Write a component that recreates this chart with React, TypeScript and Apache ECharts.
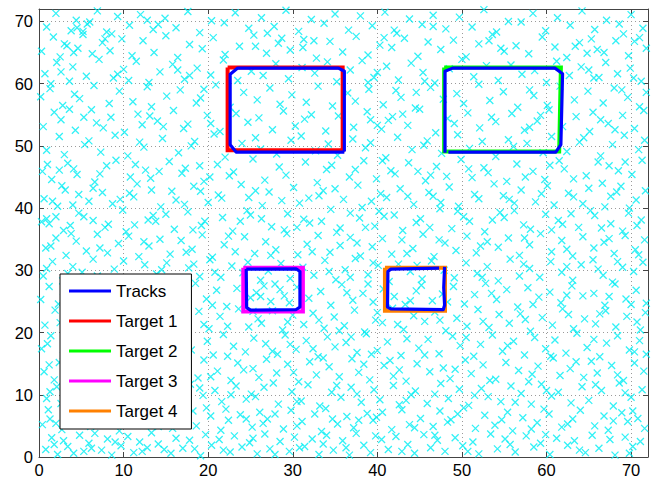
import React, { useEffect, useRef } from "react";
import * as echarts from "echarts";

// Axis extents and tick labels
const AXIS_MAX = 72;
const TICK_STEP = 10;

const clutterXY = [
  // y 0-4
  0.8,1.2, 1.5,3.1, 2.2,0.4, 2.9,2.6, 3.4,1.7, 4.8,3.5, 5.3,0.9, 5.9,2.2, 6.6,3.8, 7.4,1.1, 8.1,2.9, 8.6,0.3, 9.7,1.8, 10.5,3.3, 11.2,0.7, 11.9,2.4, 12.8,1.5, 13.3,3.9, 14.1,2.1, 15.6,0.6, 16.2,3.0, 17.0,1.4, 17.8,2.7, 19.1,0.2, 19.7,3.6, 20.4,1.9, 21.3,2.8, 22.6,0.8, 23.1,3.4, 24.0,1.6, 24.9,2.3, 25.8,0.5, 26.7,3.7, 27.3,1.3, 28.5,2.5, 29.6,0.9, 30.2,3.2, 31.4,1.7, 32.3,2.9, 33.1,0.4, 34.0,3.5, 34.8,1.1, 35.9,2.6, 36.7,0.3, 37.5,3.8, 38.4,1.9, 39.2,0.7, 40.5,2.8, 41.3,1.2, 42.2,3.3, 43.6,2.0, 44.4,0.6, 45.5,3.6, 46.3,1.5, 47.1,2.7, 48.0,0.9, 49.2,3.1, 50.1,1.8, 51.3,2.4, 52.0,0.5, 53.4,3.7, 54.2,1.3, 55.1,2.9, 56.3,0.8, 57.6,3.4, 58.5,1.6, 59.3,2.2, 60.4,0.4, 61.2,3.0, 62.5,1.9, 63.3,2.6, 64.6,0.7, 65.4,3.5, 66.2,1.4, 67.5,2.8, 68.1,0.3, 69.3,3.2, 70.2,1.7, 71.1,2.5,
  // y 4-8
  0.4,5.2, 1.1,7.6, 1.3,6.1, 2.7,4.4, 3.9,7.1, 4.2,5.8, 4.6,6.4, 6.1,4.9, 6.8,7.8, 7.9,5.5, 9.2,6.7, 9.5,4.2, 10.8,7.3, 12.4,5.1, 12.9,6.0, 13.4,5.6, 14.7,7.9, 15.8,4.6, 16.9,6.3, 18.2,7.4, 18.6,5.0, 20.3,6.6, 21.5,4.3, 22.1,7.7, 22.4,5.9, 23.8,6.8, 25.2,4.8, 26.1,7.2, 26.5,5.4, 27.0,6.1, 28.9,4.5, 29.8,7.5, 31.1,5.7, 32.6,6.9, 33.4,4.1, 33.9,7.8, 35.3,5.3, 36.4,6.5, 37.2,4.7, 38.8,7.0, 39.5,5.9, 39.9,6.4, 41.7,4.4, 42.9,7.6, 43.8,5.2, 45.1,6.2, 46.6,4.9, 47.4,7.4, 48.3,5.6, 48.7,6.0, 50.2,7.9, 51.6,4.6, 52.7,6.7, 53.9,5.1, 55.4,7.2, 56.0,4.2, 57.2,6.3, 58.9,5.5, 59.7,7.7, 60.3,6.9, 61.8,4.8, 63.1,6.1, 64.0,7.5, 65.7,5.0, 66.8,6.6, 67.3,4.3, 68.9,7.1, 69.6,5.7, 70.8,6.2, 71.6,4.6,
  // y 8-12
  0.9,9.4, 2.1,11.3, 2.6,8.6, 3.3,10.2, 5.0,11.8, 5.7,9.1, 7.2,10.6, 8.4,8.3, 8.8,11.5, 10.1,9.8, 11.6,10.9, 12.2,8.7, 13.8,11.1, 14.5,9.5, 15.3,10.3, 17.4,8.4, 17.9,11.7, 19.4,9.9, 20.8,10.7, 21.6,8.9, 23.3,11.4, 24.5,9.3, 25.1,10.1, 25.6,9.7, 27.7,11.9, 28.3,8.5, 29.9,10.5, 31.0,9.0, 31.8,11.6, 33.2,8.2, 34.6,10.4, 35.7,9.6, 36.9,11.2, 38.1,8.8, 39.6,10.8, 40.3,9.2, 41.9,11.5, 42.6,8.4, 44.0,10.0, 44.5,10.6, 45.9,8.6, 47.5,11.8, 48.4,9.4, 49.7,10.9, 50.8,8.3, 52.3,11.0, 53.1,9.7, 54.6,8.9, 55.8,11.4, 57.0,10.2, 58.2,8.5, 59.4,11.7, 60.6,9.8, 61.4,10.4, 62.9,8.7, 64.2,11.3, 65.0,9.1, 66.5,10.7, 67.9,8.2, 68.6,11.9, 70.0,9.6, 71.3,10.8,
  // y 12-16
  0.6,13.7, 1.8,12.4, 2.4,15.2, 3.7,14.1, 4.5,12.9, 6.3,15.8, 6.9,13.3, 8.2,14.6, 9.9,12.2, 10.4,15.5, 11.5,13.9, 13.1,12.6, 13.6,14.8, 15.0,15.9, 16.4,13.1, 17.3,14.4, 18.8,12.7, 19.5,15.6, 21.1,13.8, 22.7,12.3, 23.5,15.1, 24.2,14.0, 26.0,12.8, 26.9,15.7, 28.1,13.5, 29.4,14.9, 30.7,12.1, 32.0,15.3, 32.8,13.2, 34.3,14.5, 35.5,12.9, 37.0,15.8, 37.8,13.6, 39.1,12.4, 40.8,14.7, 41.5,15.5, 41.9,13.0, 43.4,12.2, 44.7,15.0, 46.2,13.7, 47.8,14.3, 48.6,12.6, 50.4,15.6, 51.1,13.4, 52.5,14.8, 54.0,12.5, 55.2,15.2, 56.7,13.9, 57.9,12.1, 59.0,14.6, 60.8,15.9, 61.6,13.1, 62.8,14.2, 64.4,12.8, 65.3,15.4, 66.0,13.5, 67.7,14.7, 69.1,12.3, 70.4,15.1, 71.5,13.8,
  // y 16-20
  0.3,17.4, 1.4,19.5, 2.9,16.3, 3.6,18.8, 5.2,17.0, 6.0,19.2, 7.6,16.7, 8.5,18.3, 9.3,19.9, 11.0,17.6, 12.3,16.2, 12.7,18.9, 14.2,17.9, 15.9,16.6, 16.6,19.4, 18.0,17.2, 19.9,18.6, 20.6,16.4, 21.8,19.7, 23.0,17.8, 24.4,16.9, 25.4,19.1, 26.8,18.2, 28.2,16.5, 29.1,19.6, 30.4,17.3, 31.6,18.7, 33.0,16.1, 34.1,19.3, 35.0,17.7, 36.3,18.4, 37.6,16.8, 38.7,19.8, 40.0,17.1, 41.2,18.5, 42.8,16.3, 43.5,19.0, 44.9,17.5, 46.0,18.9, 47.3,16.6, 48.9,19.4, 49.8,17.9, 51.4,16.2, 52.2,18.1, 53.6,19.6, 54.8,17.0, 56.1,18.6, 57.4,16.4, 58.6,19.2, 59.9,17.4, 61.0,18.8, 62.3,16.7, 63.6,19.9, 64.8,17.6, 66.3,16.1, 67.1,18.3, 68.4,19.5, 69.8,17.2, 71.0,18.7, 71.8,16.5,
  // y 20-24
  0.7,21.2, 1.9,23.6, 3.1,20.5, 3.8,22.4, 5.5,21.7, 6.7,23.9, 7.8,20.3, 9.0,22.9, 10.2,21.4, 11.3,23.2, 12.6,20.8, 14.0,22.1, 15.2,23.7, 16.0,20.2, 17.5,21.9, 18.9,23.4, 20.1,20.6, 21.4,22.6, 22.3,21.0, 23.6,23.8, 24.8,20.9, 25.9,22.2, 26.3,21.5, 27.6,23.5, 28.8,20.4, 30.0,22.8, 31.3,21.3, 32.4,23.1, 33.7,20.7, 34.9,22.5, 36.1,21.1, 37.3,23.6, 38.5,20.1, 39.8,22.0, 40.6,21.6, 41.8,23.9, 43.1,20.5, 44.3,22.7, 45.6,21.8, 46.8,23.3, 48.1,20.3, 49.4,22.3, 50.6,21.0, 51.9,23.7, 53.2,20.8, 54.4,22.9, 55.6,21.5, 56.9,23.0, 58.1,20.2, 59.5,22.4, 60.7,21.2, 61.9,23.8, 63.2,20.6, 64.5,22.2, 65.8,21.4, 67.0,23.5, 68.2,20.9, 69.5,22.6, 70.7,21.7, 71.7,23.2,
  // y 24-28
  0.2,25.3, 1.2,27.4, 2.3,24.6, 3.5,26.2, 4.9,27.8, 5.8,24.9, 7.0,26.7, 8.3,25.1, 9.6,27.2, 10.9,24.3, 12.1,26.5, 13.4,25.7, 14.8,27.6, 16.1,24.7, 17.2,26.0, 18.5,27.9, 19.8,25.4, 21.0,26.8, 22.2,24.2, 23.4,27.1, 25.0,25.6, 25.7,26.4, 26.6,27.5, 27.4,25.0, 28.5,26.9, 29.6,24.8, 30.5,27.3, 31.9,25.5, 33.3,26.6, 34.5,24.4, 35.8,27.7, 37.1,25.2, 38.3,26.3, 39.5,24.9, 40.7,27.0, 42.0,25.8, 43.3,24.5, 44.6,26.7, 45.2,27.6, 46.5,25.1, 47.7,26.2, 49.0,27.4, 50.3,24.6, 51.5,26.1, 52.8,27.9, 54.1,25.3, 55.3,26.9, 56.6,24.1, 57.8,27.2, 59.1,25.7, 60.4,26.5, 61.7,24.8, 63.0,27.5, 64.3,25.9, 65.6,26.3, 66.9,24.4, 68.1,27.8, 69.4,25.4, 70.6,26.8, 71.8,24.7,
  // y 28-32
  0.5,29.1, 1.6,31.4, 2.8,28.3, 4.0,30.6, 5.1,29.7, 6.4,31.8, 7.5,28.8, 8.9,30.2, 10.0,31.5, 11.4,28.6, 12.5,30.9, 13.9,29.4, 15.1,31.2, 16.3,28.1, 17.7,30.4, 19.0,29.0, 20.2,31.7, 21.5,28.9, 22.8,30.7, 24.1,29.6, 24.7,31.3, 26.2,28.4, 27.1,29.9, 28.6,31.1, 29.7,28.7, 31.2,30.5, 32.5,29.2, 33.8,31.6, 35.1,28.5, 36.2,30.1, 37.4,31.9, 38.9,29.3, 40.1,30.8, 41.4,28.2, 42.5,31.0, 43.9,29.8, 45.3,28.6, 46.4,31.5, 47.9,30.0, 49.1,28.8, 50.5,31.2, 51.8,29.5, 53.0,30.6, 54.3,28.3, 55.7,31.8, 56.8,29.1, 58.0,30.3, 59.2,28.9, 60.5,31.4, 61.8,29.7, 63.1,28.4, 64.1,30.9, 65.5,31.7, 66.7,29.2, 67.8,28.1, 69.0,30.5, 70.3,29.8, 71.4,31.3,
  // y 32-36
  0.8,33.6, 2.0,35.2, 3.2,32.4, 4.4,34.7, 5.6,33.1, 6.9,35.8, 8.1,32.8, 9.4,34.3, 10.6,35.5, 11.8,32.2, 13.0,33.9, 14.3,35.0, 15.5,32.6, 16.8,34.8, 18.1,33.4, 19.3,35.7, 20.5,32.1, 21.9,34.1, 23.2,33.0, 24.3,35.4, 25.5,32.7, 26.8,34.6, 28.0,33.3, 29.3,35.9, 30.6,32.5, 31.7,34.2, 33.0,35.6, 34.4,32.9, 35.6,34.0, 36.8,35.3, 38.0,32.3, 39.4,33.8, 40.6,35.1, 41.7,32.6, 42.9,34.9, 44.2,33.5, 45.4,35.8, 46.7,32.2, 48.0,34.4, 49.3,33.2, 50.6,35.5, 51.7,32.8, 53.0,34.6, 54.3,33.7, 55.5,35.2, 56.8,32.4, 58.0,34.1, 59.3,35.9, 60.6,33.0, 61.8,34.8, 63.1,32.3, 64.3,35.4, 65.6,33.6, 66.8,34.5, 68.0,32.7, 69.3,35.6, 70.5,33.3, 71.6,34.9,
  // y 36-40
  0.3,37.8, 0.9,38.3, 1.2,37.5, 2.9,36.4, 4.7,39.2, 5.3,38.6, 7.8,36.9, 8.2,37.4, 9.9,39.7, 10.3,36.2, 12.9,38.1, 13.5,38.8, 13.8,37.9, 16.0,36.6, 17.6,39.4, 19.2,37.2, 19.6,37.9, 21.7,38.5, 22.9,36.3, 24.6,39.6, 25.0,38.9, 27.5,37.0, 29.0,36.5, 29.4,39.1, 31.3,38.2, 32.0,37.6, 34.5,39.8, 35.2,36.1, 35.6,36.8, 37.9,38.4, 39.7,37.1, 40.2,39.5, 40.8,38.7, 43.0,36.4, 44.6,37.7, 45.1,38.3, 47.4,39.9, 48.8,36.7, 50.2,38.6, 50.9,37.9, 52.7,36.2, 54.5,39.3, 55.0,38.5, 57.3,37.3, 58.1,36.6, 59.9,39.0, 61.4,38.0, 61.9,37.4, 63.8,36.9, 65.2,39.6, 65.7,38.8, 67.6,37.5, 69.0,36.3, 69.7,39.2, 71.2,38.1,
  // y 40-44
  0.6,41.5, 2.2,40.3, 2.7,43.6, 3.1,42.9, 5.9,41.1, 6.4,43.2, 8.7,40.7, 10.7,42.4, 11.2,41.8, 11.6,43.9, 14.4,40.2, 15.7,42.7, 16.2,41.3, 18.3,43.5, 20.0,40.9, 21.2,42.1, 21.6,41.6, 23.9,43.8, 26.4,40.4, 27.2,42.6, 28.7,41.2, 30.1,43.3, 30.8,40.8, 33.1,42.0, 33.6,42.8, 36.0,41.4, 37.7,43.7, 38.2,40.1, 40.4,42.3, 41.1,41.7, 42.7,43.1, 44.3,40.6, 46.1,42.5, 46.6,41.9, 48.5,43.4, 49.6,40.3, 51.5,42.2, 52.0,41.5, 53.8,43.9, 56.2,40.8, 57.0,42.9, 58.7,41.0, 60.1,43.6, 60.9,40.5, 62.6,42.4, 63.2,41.8, 65.0,43.2, 66.9,40.2, 68.3,42.6, 68.8,43.5, 70.6,41.3, 71.7,42.8,
  // y 44-48
  0.4,45.9, 1.5,44.6, 3.4,47.2, 4.1,46.3, 4.5,45.4, 6.6,44.2, 8.0,46.8, 9.1,47.7, 10.8,45.0, 12.6,46.1, 13.2,44.8, 15.4,47.5, 16.9,45.6, 17.3,46.4, 19.5,44.3, 21.1,47.0, 22.5,45.2, 23.0,45.8, 25.3,47.9, 26.7,44.5, 28.4,46.6, 29.2,45.3, 31.5,47.4, 32.9,44.1, 34.0,46.2, 34.6,46.9, 36.7,45.0, 38.4,47.6, 39.9,44.7, 41.6,46.0, 42.1,45.5, 43.7,47.3, 45.7,44.4, 47.0,46.7, 48.2,45.1, 49.9,47.8, 51.2,44.9, 52.6,46.5, 53.1,45.7, 55.3,44.3, 56.5,47.1, 58.4,45.9, 59.8,44.6, 61.5,47.6, 62.1,46.3, 64.7,45.2, 66.1,47.4, 66.6,44.0, 68.5,46.0, 70.1,45.4, 71.3,47.7,
  // y 48-52
  0.9,49.3, 2.4,51.5, 3.0,48.6, 5.4,50.2, 5.9,50.8, 7.3,49.0, 9.0,51.7, 10.5,48.4, 11.9,50.6, 12.4,49.8, 14.6,51.2, 16.5,48.9, 18.0,50.0, 18.4,50.7, 20.7,51.9, 22.0,48.2, 24.0,50.4, 25.6,51.3, 26.2,49.5, 28.1,48.7, 29.8,50.9, 31.0,51.6, 32.7,49.2, 34.2,50.3, 35.3,48.5, 37.1,51.1, 38.6,49.7, 39.2,50.5, 41.0,48.1, 42.4,51.4, 44.1,49.4, 45.5,50.1, 45.9,50.8, 47.6,48.8, 49.5,51.8, 50.9,49.6, 52.4,50.7, 54.0,48.3, 55.5,51.0, 56.1,49.9, 57.7,50.4, 59.6,48.9, 60.6,51.5, 62.4,49.1, 63.9,50.6, 64.4,51.3, 66.4,48.4, 67.8,50.2, 69.2,51.7, 70.9,49.4, 71.6,50.9,
  // y 52-56
  0.5,53.1, 1.8,55.4, 2.6,54.2, 4.3,52.5, 6.2,55.8, 6.8,53.7, 8.5,54.6, 10.1,52.2, 11.7,55.1, 12.2,53.4, 14.0,54.0, 15.9,55.7, 17.1,52.8, 17.6,53.5, 19.9,54.9, 21.4,52.3, 23.3,55.2, 24.7,53.8, 26.0,54.5, 27.6,52.6, 28.9,55.6, 30.3,53.2, 31.4,54.3, 32.2,55.0, 33.9,52.4, 35.4,54.8, 37.2,53.0, 38.8,55.5, 40.5,52.7, 41.3,54.1, 41.8,54.7, 43.6,53.3, 45.0,55.9, 46.9,52.1, 48.3,54.4, 49.1,53.6, 50.7,55.3, 52.1,52.9, 53.5,54.6, 54.0,53.9, 55.9,55.2, 57.4,52.5, 58.9,54.0, 60.3,55.8, 61.9,53.1, 63.5,54.7, 65.1,52.3, 65.5,55.4, 67.3,53.6, 69.0,54.9, 70.4,52.8, 71.5,55.7,
  // y 56-60
  0.2,57.9, 1.3,59.2, 2.8,56.5, 4.2,58.3, 4.8,57.6, 6.5,59.7, 8.3,56.8, 9.5,58.8, 11.1,57.1, 12.8,59.5, 13.3,56.3, 15.1,58.0, 16.7,59.0, 18.6,56.9, 19.1,57.7, 20.9,59.8, 22.6,56.2, 24.2,58.6, 25.8,57.4, 27.3,59.3, 28.5,56.7, 29.9,58.2, 31.6,57.0, 33.0,59.6, 34.7,56.4, 36.5,58.5, 37.4,57.2, 39.0,59.1, 40.7,56.6, 42.2,58.9, 42.8,57.8, 44.5,56.1, 46.3,59.4, 47.8,57.5, 49.4,58.4, 50.2,56.8, 52.0,59.9, 53.3,57.3, 54.9,58.7, 56.6,56.2, 58.0,59.0, 58.5,58.1, 60.1,56.5, 61.6,59.6, 63.3,57.4, 64.9,58.8, 66.7,56.9, 68.0,59.3, 69.6,57.8, 71.0,56.3, 71.8,58.6,
  // y 60-64
  0.7,61.6, 2.1,63.4, 3.6,60.4, 4.0,62.7, 5.6,61.2, 7.1,63.9, 8.8,60.9, 10.0,62.3, 11.5,63.6, 13.0,60.2, 14.3,61.9, 15.8,63.1, 17.2,60.7, 18.7,62.5, 20.3,61.4, 21.8,63.8, 23.5,60.5, 25.1,62.0, 26.5,61.3, 28.0,63.2, 29.5,60.8, 31.1,62.6, 32.6,61.7, 34.1,63.5, 35.2,60.3, 36.8,62.2, 38.2,63.7, 39.6,61.0, 41.1,62.8, 42.5,60.6, 44.0,63.3, 45.4,61.8, 46.8,60.1, 48.5,62.4, 50.0,63.9, 51.4,61.1, 52.9,62.9, 54.3,60.5, 55.8,63.0, 57.1,61.5, 58.6,62.1, 60.0,60.2, 61.2,63.6, 62.7,61.3, 64.1,62.7, 65.6,60.9, 67.0,63.4, 68.4,61.6, 69.9,62.5, 71.2,60.4,
  // y 64-68
  0.3,65.2, 1.7,67.5, 2.5,64.3, 3.3,66.1, 4.6,65.7, 5.2,67.9, 6.3,64.8, 7.5,66.6, 8.4,65.3, 9.8,67.2, 11.0,64.5, 12.3,66.9, 13.6,65.0, 15.0,67.7, 16.4,64.2, 17.8,66.3, 19.3,65.6, 20.6,67.4, 22.0,64.7, 23.7,66.0, 25.4,67.8, 26.9,64.9, 28.3,66.5, 29.7,65.4, 31.3,67.1, 32.8,64.1, 34.4,66.8, 35.9,65.1, 37.5,67.6, 38.9,64.6, 40.3,66.2, 41.7,65.8, 43.2,67.3, 44.8,64.4, 46.0,66.7, 47.5,65.5, 49.0,67.0, 50.5,64.3, 52.0,66.4, 53.6,67.9, 55.0,65.2, 56.4,66.1, 57.9,64.8, 59.5,67.5, 61.0,65.9, 62.4,64.2, 63.9,66.6, 65.3,67.2, 66.8,65.0, 68.2,66.9, 69.7,64.5, 71.0,67.4, 71.8,65.7,
  // y 68-72
  0.9,69.1, 2.0,71.3, 3.8,68.5, 4.4,70.2, 5.7,69.6, 6.9,71.7, 8.0,68.3, 9.3,70.8, 10.7,69.4, 12.0,71.1, 13.5,68.7, 14.9,70.5, 16.2,69.0, 17.6,71.6, 19.0,68.2, 20.4,70.1, 21.9,69.8, 23.2,71.4, 24.8,68.9, 26.3,70.6, 27.8,69.2, 29.2,71.8, 30.7,68.4, 32.2,70.3, 33.7,69.7, 35.0,71.2, 36.6,68.6, 38.0,70.9, 39.4,69.3, 40.9,71.5, 42.3,68.1, 43.8,70.4, 45.3,69.5, 46.6,71.0, 48.1,68.8, 49.7,70.7, 51.2,69.1, 52.6,71.9, 54.1,68.3, 55.5,70.0, 57.0,69.9, 58.4,71.3, 59.9,68.5, 61.3,70.6, 62.8,69.4, 64.2,71.7, 65.7,68.7, 67.1,70.2, 68.6,69.6, 70.0,71.1, 71.4,68.9,
];

// Extra clutter clumps visible in the picture
const clutterClumpsXY = [
  4.5,69.0, 5.2,68.4, 6.0,69.9, 7.8,67.2, 8.6,68.0, 3.0,66.4, 4.1,65.0, 12.8,70.2, 14.1,69.5, 27.0,68.1, 28.7,67.3, 25.6,66.0, 31.2,65.8, 32.5,66.9, 40.8,67.4, 42.0,68.6, 46.6,69.2, 53.2,66.9, 54.6,65.7, 63.4,66.0, 64.8,64.9, 66.0,65.5, 69.1,68.0, 70.4,66.8,
  1.4,60.0, 2.6,61.9, 9.3,61.5, 10.6,60.5, 16.4,62.2, 17.8,61.3, 19.5,59.1, 38.9,60.2, 40.0,61.8, 44.6,58.6, 45.6,60.4, 65.0,62.2, 66.2,61.0, 68.9,59.0, 70.3,60.9,
  3.6,55.9, 5.3,54.6, 7.6,52.9, 13.1,54.8, 14.7,53.1, 20.3,53.6, 39.2,54.2, 40.0,53.3, 43.0,55.1, 58.0,53.0, 59.3,54.9, 66.4,54.2, 68.1,52.6,
  1.0,47.0, 2.4,46.1, 7.2,45.5, 11.4,47.0, 14.2,45.9, 19.0,46.8, 20.2,45.0, 37.4,46.2, 40.6,47.6, 44.8,45.9, 46.3,45.3, 50.8,46.3, 57.5,45.0, 60.4,46.9, 63.2,44.7, 67.4,46.8, 69.3,47.4,
  1.6,41.1, 4.0,40.5, 4.7,42.2, 7.5,42.5, 9.6,41.4, 13.3,42.9, 17.2,40.6, 19.1,42.7, 24.8,41.7, 25.6,42.8, 31.9,41.6, 35.0,43.1, 39.3,41.1, 43.6,41.9, 47.5,40.9, 54.9,42.0, 55.6,41.4, 59.4,42.3, 64.3,40.7, 67.6,41.9, 69.8,40.0,
  2.0,38.6, 3.7,37.2, 6.4,38.0, 11.3,37.3, 15.0,39.0, 18.2,36.5, 23.8,37.9, 26.3,38.3, 30.5,36.9, 33.4,37.9, 36.8,39.2, 38.6,36.9, 42.0,38.9, 46.2,36.9, 49.5,39.5, 53.6,38.1, 56.2,39.6, 60.6,36.5, 62.9,39.1, 66.5,36.8, 70.7,37.2,
  1.4,33.9, 3.8,35.9, 7.2,33.6, 12.4,34.6, 17.4,32.9, 22.4,35.5, 27.4,32.4, 32.3,33.0, 37.6,34.4, 43.5,32.7, 47.3,34.9, 52.2,33.9, 57.4,35.2, 62.4,33.4, 67.4,35.1, 70.9,32.5,
  0.9,30.3, 3.4,29.5, 6.9,29.1, 9.5,28.5, 14.5,30.1, 18.3,31.0, 20.8,29.7, 34.3,29.8, 36.8,28.9, 39.5,31.2, 44.7,30.8, 52.4,28.9, 57.3,31.0, 62.4,30.6, 66.1,30.2, 68.4,31.4,
  2.9,25.6, 6.2,26.2, 11.3,27.8, 15.4,25.6, 20.5,24.4, 26.2,25.8, 27.9,27.8, 29.0,25.9, 36.4,26.4, 38.9,27.8, 43.9,25.1, 48.3,24.9, 53.5,26.3, 58.4,24.5, 62.4,26.0, 67.4,25.8, 70.0,24.5,
  2.5,21.6, 4.6,20.9, 8.4,21.8, 13.3,22.9, 16.7,22.8, 19.5,21.3, 25.3,23.4, 29.4,21.7, 33.1,22.0, 35.5,20.3, 40.0,23.2, 42.4,21.3, 47.4,22.0, 52.5,21.8, 57.5,22.1, 62.6,22.9, 66.3,23.0, 71.1,20.4,
  1.0,18.2, 4.2,19.6, 7.0,18.1, 10.3,16.8, 13.5,17.3, 17.3,18.0, 22.3,16.2, 27.6,17.0, 29.7,18.1, 32.4,17.4, 36.9,19.3, 39.3,16.5, 45.6,16.4, 50.5,19.2, 55.4,17.9, 60.5,16.2, 65.6,18.9, 70.4,16.9,
  1.2,14.8, 5.1,14.0, 7.5,12.5, 12.1,14.9, 15.7,13.6, 20.3,12.9, 25.3,14.2, 30.1,13.6, 33.6,15.9, 38.4,14.9, 42.6,14.0, 49.2,14.1, 53.3,12.3, 58.3,13.3, 63.5,15.3, 68.4,13.2,
  1.3,10.5, 4.2,8.9, 6.5,11.0, 9.5,10.2, 16.2,9.4, 19.0,11.1, 22.7,10.0, 26.6,11.2, 30.5,8.9, 35.2,11.5, 37.6,10.1, 43.4,9.1, 46.8,10.1, 51.5,9.9, 56.3,8.8, 60.0,10.7, 65.8,11.6, 69.3,10.3,
  2.0,5.4, 5.4,7.3, 8.6,5.9, 11.5,6.5, 14.1,4.9, 17.5,5.7, 19.8,7.9, 24.5,6.1, 27.9,6.9, 30.5,5.0, 34.7,6.1, 37.8,5.9, 40.6,7.2, 44.4,4.7, 49.5,6.9, 54.7,6.0, 58.2,4.5, 62.5,5.3, 67.9,5.8, 70.2,7.4,
  1.8,2.0, 4.1,0.6, 6.2,1.4, 9.0,2.4, 12.2,0.9, 14.8,1.2, 18.4,1.3, 21.8,1.1, 25.3,3.0, 27.9,0.4, 30.8,1.5, 33.6,2.1, 36.3,1.5, 39.8,3.4, 42.9,0.9, 46.8,3.5, 50.7,0.9, 55.7,2.0, 59.9,3.6, 63.9,1.1, 69.8,0.6,
];

// Ground-truth target trajectories
const target1 = [[22.3, 62.6], [35.9, 62.6], [35.9, 49.3], [22.3, 49.3], [22.3, 62.6]];
const target2 = [[47.9, 62.6], [61.7, 62.6], [61.5, 49.1], [47.9, 49.1], [47.9, 62.6]];
const target3 = [[24.15, 30.4], [31.2, 30.4], [31.2, 23.4], [24.15, 23.4], [24.15, 30.4]];
const target4 = [[40.9, 30.4], [48.0, 30.4], [48.0, 23.5], [40.9, 23.5], [40.9, 30.4]];

// Estimated tracks
const track1 = [[36.1, 49.1], [36.1, 62.0], [35.4, 62.5], [23.5, 62.5], [22.6, 61.5], [22.6, 50.2], [23.3, 49.0], [36.1, 49.0]];
const track2 = [[48.0, 48.9], [48.0, 62.0], [48.9, 62.5], [61.0, 62.5], [61.9, 61.6], [61.7, 50.2], [61.1, 49.0], [48.4, 49.0]];
const track3 = [[24.5, 30.2], [30.4, 30.25], [30.85, 29.8], [30.85, 24.1], [30.4, 23.7], [25.0, 23.6], [24.55, 24.0], [24.5, 30.2]];
const track4 = [[47.3, 30.35], [41.6, 30.2], [41.25, 29.8], [41.2, 24.1], [41.6, 23.8], [47.8, 23.7], [47.95, 24.4], [47.85, 27.2], [47.95, 30.55]];

const legendNames = ["Tracks", "Target 1", "Target 2", "Target 3", "Target 4"];
const targetColors = ["#ff0000", "#00ff00", "#ff00ff", "#ff8000"];
const trackColor = "#0000ff";
const clutterColor = "#00eef4";

const FONT = "'Liberation Sans', Arial, Helvetica, sans-serif";

export default function App() {
  const ref = useRef<HTMLDivElement>(null);
  useEffect(() => {
    if (!ref.current) return;
    const chart = echarts.init(ref.current, undefined, { renderer: "svg" });

    const clutterPts: number[][] = [];
    const allXY = clutterXY.concat(clutterClumpsXY);
    for (let i = 0; i + 1 < allXY.length; i += 2) clutterPts.push([allXY[i], allXY[i + 1]]);

    const fmt = (v: number) => (v % TICK_STEP === 0 ? String(v) : "");
    const axisColor = "#444";
    const common = {
      type: "value",
      min: 0,
      max: AXIS_MAX,
      interval: TICK_STEP,
    };

    const targets = [target1, target2, target3, target4];
    const tracks = [track1, track2, track3, track4];

    const series: any[] = [
      {
        type: "scatter",
        name: "Clutter",
        data: clutterPts,
        symbol: "path://M0,0L10,10M10,0L0,10",
        symbolSize: 7,
        silent: true,
        itemStyle: { color: "rgba(0,0,0,0)", borderColor: clutterColor, borderWidth: 1.3 },
      },
    ];
    targets.forEach((t, i) => {
      series.push({
        type: "line",
        name: legendNames[i + 1],
        data: t,
        symbol: "none",
        silent: true,
        color: targetColors[i],
        itemStyle: { color: targetColors[i] },
        lineStyle: { color: targetColors[i], width: 4, join: "miter" },
      });
    });
    tracks.forEach((t) => {
      series.push({
        type: "line",
        name: "Tracks",
        data: t,
        symbol: "none",
        silent: true,
        color: trackColor,
        itemStyle: { color: trackColor },
        lineStyle: { color: trackColor, width: 3.2, join: "round" },
      });
    });

    chart.setOption({
      animation: false,
      backgroundColor: "#ffffff",
      textStyle: { fontFamily: FONT },
      grid: { left: 39, right: 3, top: 9, bottom: 24, containLabel: false },
      xAxis: [
        {
          ...common,
          position: "bottom",
          axisLine: { show: true, onZero: false, lineStyle: { color: axisColor, width: 1 } },
          axisTick: { show: true, inside: true, length: 5, lineStyle: { color: axisColor } },
          axisLabel: { formatter: fmt, color: "#000", fontSize: 16.5, fontFamily: FONT, margin: 4 },
          splitLine: { show: true, lineStyle: { color: "#9a9a9a", type: [1, 3], width: 1 } },
        },
        {
          ...common,
          position: "top",
          axisLine: { show: true, onZero: false, lineStyle: { color: axisColor, width: 1 } },
          axisTick: { show: true, inside: true, length: 5, lineStyle: { color: axisColor } },
          axisLabel: { show: false },
          splitLine: { show: false },
        },
      ],
      yAxis: [
        {
          ...common,
          position: "left",
          axisLine: { show: true, onZero: false, lineStyle: { color: axisColor, width: 1 } },
          axisTick: { show: true, inside: true, length: 5, lineStyle: { color: axisColor } },
          axisLabel: { formatter: fmt, color: "#000", fontSize: 16.5, fontFamily: FONT, margin: 6 },
          splitLine: { show: true, lineStyle: { color: "#9a9a9a", type: [1, 3], width: 1 } },
        },
        {
          ...common,
          position: "right",
          axisLine: { show: true, onZero: false, lineStyle: { color: axisColor, width: 1 } },
          axisTick: { show: true, inside: true, length: 5, lineStyle: { color: axisColor } },
          axisLabel: { show: false },
          splitLine: { show: false },
        },
      ],
      legend: {
        show: true,
        orient: "vertical",
        left: 60,
        top: 274,
        data: legendNames.map((n) => ({ name: n, icon: "rect" })),
        itemWidth: 42,
        itemHeight: 3,
        itemGap: 10,
        padding: [7, 14, 8, 9],
        backgroundColor: "#ffffff",
        borderColor: "#000000",
        borderWidth: 1,
        borderRadius: 0,
        selectedMode: false,
        textStyle: { color: "#000", fontSize: 17, fontFamily: FONT, lineHeight: 20 },
      },
      series,
    });

    return () => chart.dispose();
  }, []);

  return (
    <div
      ref={ref}
      style={{ position: "absolute", left: 0, top: 0, width: 651, height: 481 }}
    />
  );
}
